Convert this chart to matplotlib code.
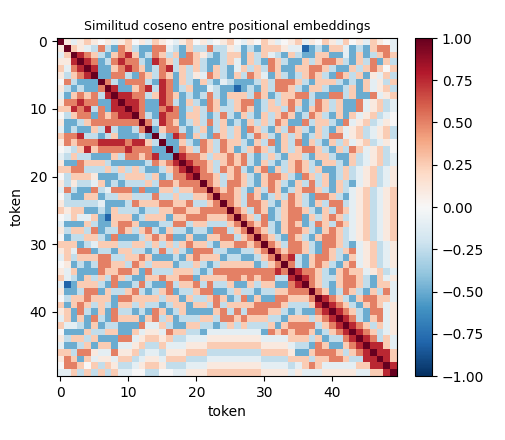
import numpy as np
import matplotlib
matplotlib.use("Agg")
import matplotlib.pyplot as plt

# Upper-triangle rows (starting at the diagonal)
levels = {'B': -0.8, 'b': -0.5, 'c': -0.25, 'z': -0.1, '0': 0.0, 'q': 0.1,
          'p': 0.25, 'r': 0.5, 'R': 0.75, 'D': 1.0}
rows = [
"Dqzqp q0qzq p0qzp q0zqp 0qz0q p0zq0 pqz0q pzq0p qzp0q zpq0z",
"Dpqzc rcbrp cbbrr zcbpc crccq zbcbp ppqzz Bbcbp pzbcb prrz",
"DRrpc bprRp bcrpc pbrpq cbcpp bpcpz cbpcb bppbb zbpbc prp",
"DRrbc rRrrc bRrpc rrpcb bcpzb pcbrp cbbpc prrpc bpcrb pc",
"DRbbp rRrpb crRcp cpcbp cbzpc pcrpb bpprr pcbbp cprp0 p",
"Dbbrr cbrpc rpbpc qzrpc bpcrp zbpcb cprpc brpcp bqzpc",
"Drcbr rrcbR rbpcb pcbzc bbbcp crrrp cbppp cbcbp zqcp",
"DRbbp rRcRr bcpbb zcbbB bcbpc rrpcb ppcbb cpbpz qpc",
"DRRrr cpRrp bcbcr cbppp crpbc pprrc bbrrc pbbrz qp",
"DRRrb bRrcb pcbrp bcprr bcpcp rpbcr pcpbb rzqpc z",
"DRrbb rRrbc pcrpc cprpb cppcr cbprp cpbbr zqpcz",
"DrcbR rrbpp cbcrc bpcbp cprpb crpcb pbpzq pcz",
"DrcRr pbcpc rcpbc bpcpc rpbbr cppcb rzqpc zq",
"Dbprr cbcpb cpcpb rpcbp crpcb pcbpz qpczq pc",
"DcbRr bpcbr pcpbc rpcbp cpbcp crrzq pczqp c",
"Dbbpc brpcr ppcbp crbpc rbpcb pcpzq pczq",
"Dbrpc rpcrp bcprp cbpcp rrpcb pcrpz qpc",
"DRrrp cpprp rcbcp cbppc bppcb bpczq pcz",
"DRrrp cprpr cbpcb cprpc bppcb pczqp cz",
"DRrpc rprcb prbpc prpcp bbcpc zqpcz q",
"Drrpc prpcb prrpc brpcp bcpcz qpczq",
"Drpcr rpcbp rpcbp crcpb pcbzq pczq",
"Drprp cbpcr pbcpr rpcbp czqpc zqp",
"Drrpc rpbcp crpcb rrpcb zqpcz qp",
"Drpcr rpcbp rpcbp crrcz qpczq p",
"Drpcr pbcpr rpcbp crpzq pczqp",
"Drpcr bcprr bpcpr pczqp czqp",
"Drprc bprpb crpcr pzqpc zqp",
"Drpcb prrpc bprpc zqpcz qp",
"Drpcb rpcbp rrpcz qpczq p",
"Drpcr rpcbr rpcbz qpczq",
"Drprr pcbrp cprzq pczq",
"DrRcb prrpc bpzqp czq",
"Drcbp rpcbp rzqpc zq",
"DRrrp cbprp pzqpc z",
"DRrpc cprrp cbpzq",
"Drpcb prrpc bppz",
"Drpbc rpcbp crz",
"DRrpc bprrp pz",
"DRrpc bprpz q",
"DRrpc brrzq",
"DRrcb przq",
"DRrpc pzq",
"DRrpc zq",
"DRrcp z",
"DRRpz",
"DRRp",
"DRp",
"DR",
"D",
]
n = 50
M = np.zeros((n, n))
for i, s in enumerate(rows):
    s = s.replace(' ', '')
    s = (s + '0' * n)[: n - i]
    for k, ch in enumerate(s):
        M[i, i + k] = levels[ch]
        M[i + k, i] = levels[ch]

fig = plt.figure(figsize=(5.06, 4.40), dpi=100)
ax = fig.add_axes([57/506, 1 - 376/440, 340/506, 338/440])
cax = fig.add_axes([415/506, 1 - 376/440, 17/506, 338/440])
im = ax.imshow(M, cmap='RdBu_r', vmin=-1, vmax=1, aspect='auto')
ax.set_xticks([0, 10, 20, 30, 40])
ax.set_yticks([0, 10, 20, 30, 40])
ax.set_xlabel('token')
ax.set_ylabel('token')
ax.set_title('Similitud coseno entre positional embeddings', fontsize=9)
fig.colorbar(im, cax=cax)
fig.savefig('out.png', dpi=100)
